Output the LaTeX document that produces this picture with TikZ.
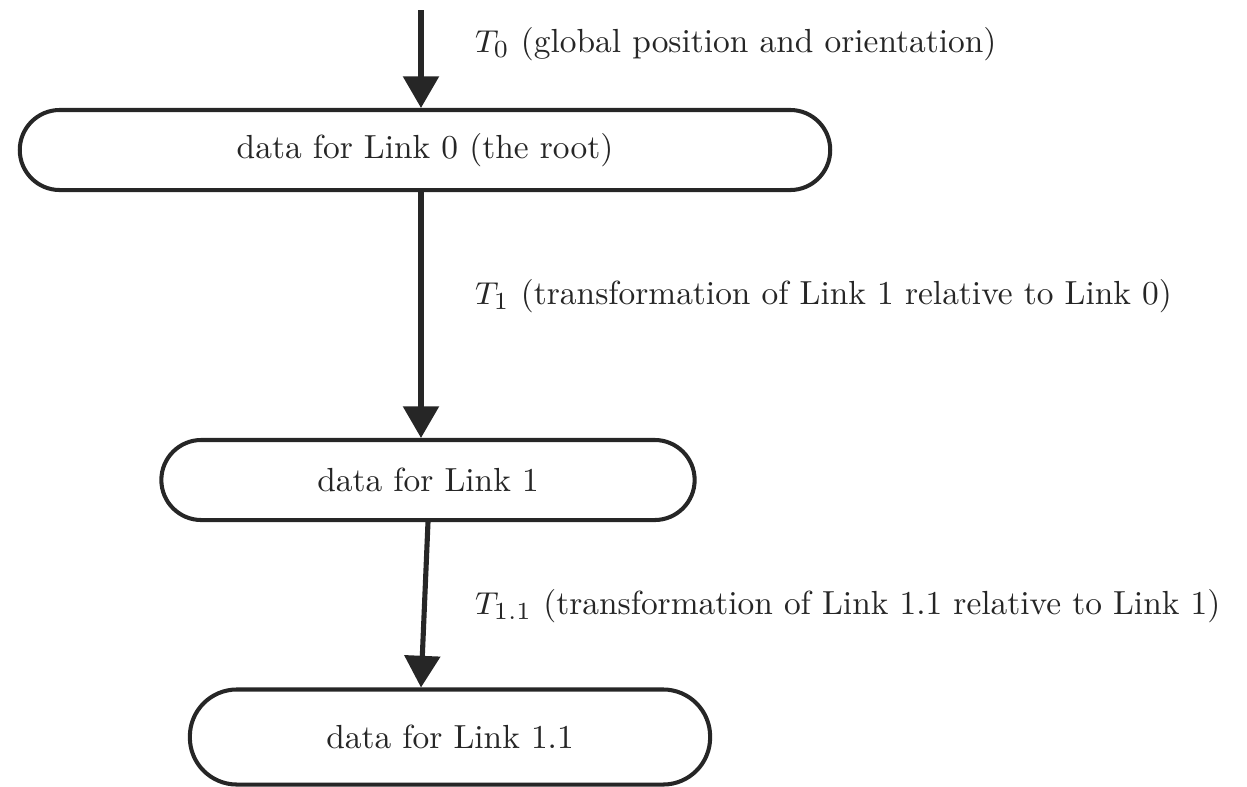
\documentclass[tikz,border=0pt]{standalone}
\usetikzlibrary{arrows.meta}

\begin{document}
\begin{tikzpicture}[x=0.01cm,y=-0.01cm,>={Triangle[length=9pt,width=10pt]},
	color=black!85,line width=1.15pt,
	link/.style={draw,rounded corners=0.4cm,minimum height=0.8cm,inner sep=0pt,
		font=\fontsize{9.5}{11}\selectfont},
	trafo/.style={anchor=west,inner sep=0pt,font=\fontsize{9.5}{11}\selectfont},
	flow/.style={->,line width=1.45pt}]
\useasboundingbox (0,0) rectangle (1247,787);

% the three links
\node[link,minimum width=8.1cm] (l0) at (425,150) {data for Link 0 (the root)};
\node[link,minimum width=5.33cm] (l1) at (428,480) {data for Link 1};
\node[link,minimum width=5.2cm,minimum height=0.95cm,rounded corners=0.47cm] (l11) at (450,737) {data for Link 1.1};

% transformations
\coordinate (top) at (421,10);
\draw[flow] (top) -- (top |- l0.north);
\draw[flow] (top |- l0.south) -- (top |- l1.north);
\draw[flow] (l1.south) -- (top |- l11.north);

\node[trafo] (t0) at (473,44) {$T_0$ (global position and orientation)};
\node[trafo] (t1) at (473,296) {$T_1$ (transformation of Link 1 relative to Link 0)};
\node[trafo] (t11) at (473,606) {$T_{1.1}$ (transformation of Link 1.1 relative to Link 1)};

\end{tikzpicture}
\end{document}
